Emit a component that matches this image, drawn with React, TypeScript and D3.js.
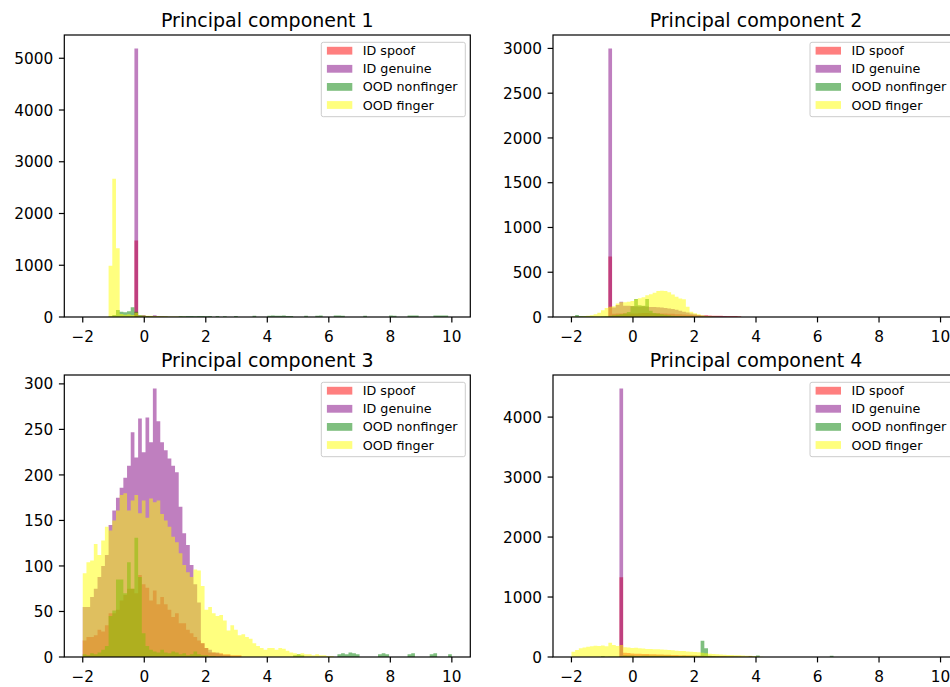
import React from "react";
import * as d3 from "d3";

// ---------- data ----------
const BIN_START = -2;
const BIN_END = 10;
const N_BINS = 100;
const xTicks = [-2, 0, 2, 4, 6, 8, 10];
const seriesNames = ["ID spoof", "ID genuine", "OOD nonfinger", "OOD finger"];
const seriesColors = ["red", "purple", "green", "yellow"];
const panelTitles = ["Principal component 1", "Principal component 2", "Principal component 3", "Principal component 4"];
const yTicks1 = [0, 1000, 2000, 3000, 4000, 5000];
const yTicks2 = [0, 500, 1000, 1500, 2000, 2500, 3000];
const yTicks3 = [0, 50, 100, 150, 200, 250, 300];
const yTicks4 = [0, 1000, 2000, 3000, 4000];

// PC1
const red1 = [
  0, 0, 0, 0, 0, 0, 0, 0, 0, 0,
  0, 0, 0, 5, 1480, 15, 10, 8, 5, 5,
  3, 3, 2, 0, 0, 0, 0, 0, 0, 0,
  0, 0, 0, 0, 0, 0, 0, 0, 0, 0,
  0, 0, 0, 0, 0, 0, 0, 0, 0, 0,
  0, 0, 0, 0, 0, 0, 0, 0, 0, 0,
  0, 0, 0, 0, 0, 0, 0, 0, 0, 0,
  0, 0, 0, 0, 0, 0, 0, 0, 0, 0,
  0, 0, 0, 0, 0, 0, 0, 0, 0, 0,
  0, 0, 0, 0, 0, 0, 0, 0, 0, 0,
];
const purple1 = [
  0, 0, 0, 0, 0, 0, 0, 0, 0, 0,
  0, 0, 0, 0, 5190, 25, 40, 20, 15, 35,
  15, 10, 10, 5, 5, 3, 0, 0, 0, 0,
  0, 0, 0, 0, 0, 0, 0, 0, 0, 0,
  0, 0, 0, 0, 0, 0, 0, 0, 0, 0,
  0, 0, 0, 0, 0, 0, 0, 0, 0, 0,
  0, 0, 0, 0, 0, 0, 0, 0, 0, 0,
  0, 0, 0, 0, 0, 0, 0, 0, 0, 0,
  0, 0, 0, 0, 0, 0, 0, 0, 0, 0,
  0, 0, 0, 0, 0, 0, 0, 0, 0, 0,
];
const green1 = [
  0, 0, 0, 0, 0, 0, 0, 10, 40, 136,
  100, 90, 110, 187, 100, 40, 25, 20, 15, 12,
  10, 8, 8, 6, 5, 5, 20, 15, 18, 20,
  15, 18, 20, 15, 18, 0, 20, 0, 15, 0,
  0, 20, 0, 0, 0, 0, 25, 0, 0, 0,
  25, 30, 25, 25, 30, 20, 20, 0, 0, 0,
  25, 0, 0, 25, 30, 0, 0, 0, 30, 30,
  25, 0, 0, 0, 0, 0, 25, 0, 0, 0,
  0, 0, 0, 30, 25, 0, 0, 0, 30, 30,
  30, 0, 0, 0, 0, 30, 30, 30, 30, 0,
];
const yellow1 = [
  0, 0, 0, 0, 0, 0, 0, 990, 2670, 1330,
  60, 45, 55, 40, 80, 30, 30, 25, 25, 20,
  20, 15, 15, 12, 10, 8, 5, 3, 0, 0,
  0, 0, 0, 0, 0, 0, 0, 0, 0, 0,
  0, 0, 0, 0, 0, 0, 0, 0, 0, 0,
  0, 0, 0, 0, 0, 0, 0, 0, 0, 0,
  0, 0, 0, 0, 0, 0, 0, 0, 0, 0,
  0, 0, 0, 0, 0, 0, 0, 0, 0, 0,
  0, 0, 0, 0, 0, 0, 0, 0, 0, 0,
  0, 0, 0, 0, 0, 0, 0, 0, 0, 0,
];

// PC2
const red2 = [
  0, 0, 0, 0, 0, 0, 0, 0, 0, 0,
  675, 35, 38, 40, 42, 40, 38, 40, 42, 45,
  45, 42, 40, 42, 40, 38, 35, 35, 32, 30,
  28, 25, 22, 20, 18, 15, 20, 18, 15, 15,
  15, 12, 12, 10, 10, 8, 0, 0, 0, 0,
  0, 0, 0, 0, 0, 0, 0, 0, 0, 0,
  0, 0, 0, 0, 0, 0, 0, 0, 0, 0,
  0, 0, 0, 0, 0, 0, 0, 0, 0, 0,
  0, 0, 0, 0, 0, 0, 0, 0, 0, 0,
  0, 0, 0, 0, 0, 0, 0, 0, 0, 0,
];
const purple2 = [
  0, 0, 0, 0, 0, 0, 0, 0, 0, 0,
  3000, 107, 135, 170, 125, 125, 122, 120, 118, 120,
  118, 112, 112, 110, 105, 100, 95, 90, 80, 70,
  60, 50, 40, 30, 22, 18, 15, 12, 10, 8,
  5, 5, 3, 3, 2, 0, 0, 0, 0, 0,
  0, 0, 0, 0, 0, 0, 0, 0, 0, 0,
  0, 0, 0, 0, 0, 0, 0, 0, 0, 0,
  0, 0, 0, 0, 0, 0, 0, 0, 0, 0,
  0, 0, 0, 0, 0, 0, 0, 0, 0, 0,
  0, 0, 0, 0, 0, 0, 0, 0, 0, 0,
];
const green2 = [
  5, 22, 12, 10, 10, 8, 5, 5, 8, 10,
  15, 20, 25, 30, 40, 55, 120, 200, 130, 125,
  200, 70, 45, 40, 30, 25, 20, 15, 12, 10,
  8, 6, 5, 4, 3, 2, 0, 0, 0, 0,
  0, 0, 0, 0, 0, 0, 0, 0, 0, 0,
  0, 0, 0, 0, 0, 0, 0, 0, 0, 0,
  0, 0, 0, 0, 0, 0, 0, 0, 0, 0,
  0, 0, 0, 0, 0, 0, 0, 0, 0, 0,
  0, 0, 0, 0, 0, 0, 0, 0, 0, 0,
  0, 0, 0, 0, 0, 0, 0, 0, 0, 0,
];
const yellow2 = [
  5, 5, 5, 8, 15, 20, 30, 48, 75, 100,
  114, 120, 150, 165, 165, 170, 180, 199, 210, 222,
  242, 255, 270, 290, 292, 290, 276, 250, 226, 208,
  197, 114, 60, 41, 30, 20, 12, 8, 5, 3,
  0, 0, 0, 0, 0, 0, 0, 0, 0, 0,
  0, 0, 0, 0, 0, 0, 0, 0, 0, 0,
  0, 0, 0, 0, 0, 0, 0, 0, 0, 0,
  0, 0, 0, 0, 0, 0, 0, 0, 0, 0,
  0, 0, 0, 0, 0, 0, 0, 0, 0, 0,
  0, 0, 0, 0, 0, 0, 0, 0, 0, 0,
];

// PC3
const red3 = [
  18, 22, 22, 24, 30, 28, 35, 48, 48, 52,
  62, 68, 75, 75, 70, 90, 80, 76, 62, 73,
  58, 66, 58, 52, 44, 48, 37, 37, 30, 26,
  22, 18, 15, 10, 5, 5, 4, 4, 3, 3,
  2, 2, 2, 0, 0, 0, 0, 0, 0, 0,
  0, 0, 0, 0, 0, 0, 0, 0, 0, 0,
  0, 0, 0, 0, 0, 0, 0, 0, 0, 0,
  0, 0, 0, 0, 0, 0, 0, 0, 0, 0,
  0, 0, 0, 0, 0, 0, 0, 0, 0, 0,
  0, 0, 0, 0, 0, 0, 0, 0, 0, 0,
];
const purple3 = [
  55, 55, 66, 75, 88, 100, 112, 145, 161, 175,
  186, 197, 210, 247, 219, 262, 225, 263, 236, 295,
  259, 236, 227, 218, 210, 203, 165, 136, 123, 101,
  80, 60, 15, 10, 8, 5, 5, 3, 2, 2,
  0, 0, 0, 0, 0, 0, 0, 0, 0, 0,
  0, 0, 0, 0, 0, 0, 0, 0, 0, 0,
  0, 0, 0, 0, 0, 0, 0, 0, 0, 0,
  0, 0, 0, 0, 0, 0, 0, 0, 0, 0,
  0, 0, 0, 0, 0, 0, 0, 0, 0, 0,
  0, 0, 0, 0, 0, 0, 0, 0, 0, 0,
];
const green3 = [
  3, 2, 4, 3, 5, 8, 12, 45, 51, 85,
  85, 70, 104, 75, 131, 88, 26, 12, 8, 6,
  5, 8, 5, 4, 6, 5, 3, 4, 2, 3,
  6, 3, 2, 2, 1, 1, 0, 0, 0, 0,
  0, 0, 0, 0, 0, 0, 0, 0, 0, 0,
  0, 0, 0, 0, 0, 0, 0, 2, 3, 2,
  0, 0, 0, 0, 0, 0, 0, 0, 0, 3,
  4, 3, 5, 4, 3, 0, 0, 0, 0, 0,
  3, 4, 3, 0, 0, 0, 0, 0, 3, 4,
  0, 0, 0, 0, 3, 4, 0, 0, 0, 3,
];
const yellow3 = [
  92, 104, 106, 124, 112, 128, 143, 139, 150, 161,
  178, 180, 161, 172, 178, 158, 172, 153, 174, 170,
  172, 157, 150, 143, 132, 126, 114, 101, 93, 88,
  96, 95, 78, 52, 55, 48, 45, 46, 40, 29,
  35, 30, 24, 25, 22, 20, 15, 12, 10, 8,
  10, 10, 8, 10, 9, 7, 5, 4, 3, 4,
  3, 3, 2, 3, 2, 2, 1, 1, 0, 0,
  0, 0, 0, 0, 0, 0, 0, 0, 0, 0,
  0, 0, 0, 0, 0, 0, 0, 0, 0, 0,
  0, 0, 0, 0, 0, 0, 0, 0, 0, 0,
];

// PC4
const red4 = [
  0, 0, 0, 0, 0, 0, 0, 0, 0, 0,
  0, 0, 0, 1330, 70, 65, 60, 55, 55, 50,
  48, 45, 45, 42, 40, 38, 36, 35, 32, 30,
  30, 28, 26, 25, 22, 20, 18, 16, 15, 14,
  12, 12, 10, 10, 8, 8, 6, 5, 5, 0,
  0, 0, 0, 0, 0, 0, 0, 0, 0, 0,
  0, 0, 0, 0, 0, 0, 0, 0, 0, 0,
  0, 0, 0, 0, 0, 0, 0, 0, 0, 0,
  0, 0, 0, 0, 0, 0, 0, 0, 0, 0,
  0, 0, 0, 0, 0, 0, 0, 0, 0, 0,
];
const purple4 = [
  0, 0, 0, 0, 0, 0, 0, 0, 0, 0,
  0, 0, 0, 4478, 25, 25, 25, 22, 20, 20,
  20, 18, 18, 16, 15, 15, 14, 12, 12, 10,
  10, 8, 8, 6, 6, 5, 5, 4, 4, 3,
  3, 3, 2, 2, 2, 2, 2, 2, 15, 0,
  0, 0, 0, 0, 0, 0, 0, 0, 0, 0,
  0, 0, 0, 0, 0, 0, 0, 0, 0, 0,
  0, 0, 0, 0, 0, 0, 0, 0, 0, 0,
  0, 0, 0, 0, 0, 0, 0, 0, 0, 0,
  0, 0, 0, 0, 0, 0, 0, 0, 0, 0,
];
const green4 = [
  0, 0, 0, 0, 0, 0, 0, 0, 15, 5,
  8, 10, 10, 12, 25, 20, 20, 18, 18, 20,
  22, 20, 20, 22, 20, 20, 20, 18, 18, 18,
  20, 18, 20, 20, 22, 272, 144, 20, 15, 12,
  10, 10, 8, 8, 8, 6, 5, 5, 5, 10,
  25, 0, 0, 0, 0, 0, 0, 0, 0, 0,
  0, 0, 0, 0, 0, 0, 0, 0, 0, 0,
  20, 0, 0, 0, 0, 0, 0, 0, 0, 0,
  0, 0, 0, 0, 0, 0, 0, 0, 0, 0,
  0, 0, 0, 0, 0, 0, 0, 0, 0, 0,
];
const yellow4 = [
  89, 115, 144, 160, 172, 180, 189, 185, 190, 180,
  239, 200, 185, 200, 161, 160, 150, 155, 145, 140,
  135, 133, 130, 128, 125, 120, 115, 112, 106, 100,
  98, 90, 89, 85, 80, 70, 61, 55, 50, 44,
  40, 38, 35, 33, 30, 28, 25, 22, 20, 15,
  10, 5, 0, 0, 0, 0, 0, 0, 0, 0,
  0, 0, 0, 0, 0, 0, 0, 0, 0, 0,
  0, 0, 0, 0, 0, 0, 0, 0, 0, 0,
  0, 0, 0, 0, 0, 0, 0, 0, 0, 0,
  0, 0, 0, 0, 0, 0, 0, 0, 0, 0,
];

// ---------- layout ----------
const W = 950;
const H = 687;
const FONT = "'DejaVu Sans', sans-serif";
const AX_W = 406;
const AX_H = 282;
const COL_X = [64.3, 553];
const ROW_Y = [35, 375];

const panels = [
  { title: panelTitles[0], series: [red1, purple1, green1, yellow1], yTicks: yTicks1, left: COL_X[0], top: ROW_Y[0] },
  { title: panelTitles[1], series: [red2, purple2, green2, yellow2], yTicks: yTicks2, left: COL_X[1], top: ROW_Y[0] },
  { title: panelTitles[2], series: [red3, purple3, green3, yellow3], yTicks: yTicks3, left: COL_X[0], top: ROW_Y[1] },
  { title: panelTitles[3], series: [red4, purple4, green4, yellow4], yTicks: yTicks4, left: COL_X[1], top: ROW_Y[1] },
];

const edges = d3.range(N_BINS + 1).map((i) => BIN_START + (i * (BIN_END - BIN_START)) / N_BINS);
const fmtTick = (v: number) => (v < 0 ? "\u2212" + Math.abs(v) : String(v));

function Panel({ p }: { p: (typeof panels)[number] }) {
  const { left, top } = p;
  const right = left + AX_W;
  const bottom = top + AX_H;
  const span = BIN_END - BIN_START;
  const x = d3.scaleLinear().domain([BIN_START - 0.05 * span, BIN_END + 0.05 * span]).range([left, right]);
  const maxV = d3.max(p.series.flatMap((s) => s)) as number;
  const y = d3.scaleLinear().domain([0, maxV * 1.05]).range([bottom, top]);
  const area = d3
    .area<[number, number]>()
    .x((d) => x(d[0]))
    .y0(y(0))
    .y1((d) => y(d[1]))
    .curve(d3.curveStepAfter);

  const tickLen = 5.4;
  const lw = 1.2;
  const tickFont = 15.3;
  const legFont = 12.7;
  const legW = 144;
  const legH = 74.4;
  const legX = right - 5 - legW;
  const legY = top + 7.3;

  return (
    <g>
      {p.series.map((s, si) => {
        const pts: [number, number][] = s.map((v, i) => [edges[i], v] as [number, number]);
        pts.push([edges[N_BINS], s[N_BINS - 1]]);
        return <path key={si} d={area(pts) || ""} fill={seriesColors[si]} fillOpacity={0.5} />;
      })}
      <rect x={left} y={top} width={AX_W} height={AX_H} fill="none" stroke="black" strokeWidth={lw} />
      {xTicks.map((t) => (
        <g key={"x" + t}>
          <line x1={x(t)} x2={x(t)} y1={bottom} y2={bottom + tickLen} stroke="black" strokeWidth={lw} />
          <text x={x(t)} y={bottom + 24.5} textAnchor="middle" fontSize={tickFont} fontFamily={FONT} fill="black">
            {fmtTick(t)}
          </text>
        </g>
      ))}
      {p.yTicks.map((t) => (
        <g key={"y" + t}>
          <line x1={left - tickLen} x2={left} y1={y(t)} y2={y(t)} stroke="black" strokeWidth={lw} />
          <text x={left - 11} y={y(t) + 5.6} textAnchor="end" fontSize={tickFont} fontFamily={FONT} fill="black">
            {t}
          </text>
        </g>
      ))}
      <text x={(left + right) / 2} y={top - 8.5} textAnchor="middle" fontSize={19} fontFamily={FONT} fill="black">
        {p.title}
      </text>
      <g>
        <rect x={legX} y={legY} width={legW} height={legH} rx={2} fill="white" fillOpacity={0.8} stroke="#cccccc" strokeWidth={1} />
        {seriesNames.map((name, i) => {
          const cy = legY + 8.4 + i * 18.1;
          return (
            <g key={name}>
              <rect x={legX + 5.6} y={cy - 3.9} width={25.4} height={7.8} fill={seriesColors[i]} fillOpacity={0.5} />
              <text x={legX + 41.5} y={cy + 4.5} fontSize={legFont} fontFamily={FONT} fill="black">
                {name}
              </text>
            </g>
          );
        })}
      </g>
    </g>
  );
}

export default function App() {
  return (
    <div style={{ position: "absolute", left: 0, top: 0, width: W, height: H, overflow: "hidden" }}>
      <svg width={W} height={H} viewBox={`0 0 ${W} ${H}`} style={{ display: "block", background: "white" }}>
        <rect x={0} y={0} width={W} height={H} fill="white" />
        {panels.map((p, i) => (
          <Panel key={i} p={p} />
        ))}
      </svg>
    </div>
  );
}
